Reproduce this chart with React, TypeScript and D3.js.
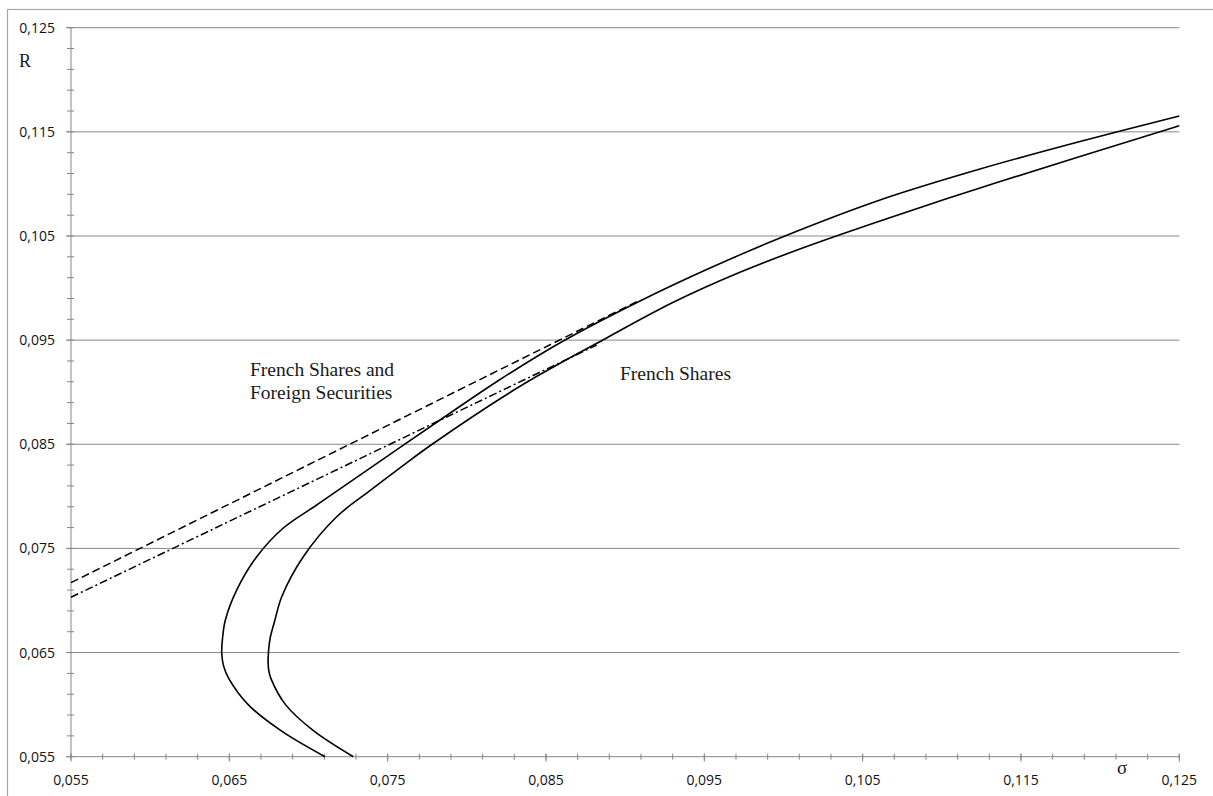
import React from "react";
import * as d3 from "d3";

// ---- Data ----
const sigmaTicks = [0.055, 0.065, 0.075, 0.085, 0.095, 0.105, 0.115, 0.125];
const returnTicks = [0.055, 0.065, 0.075, 0.085, 0.095, 0.105, 0.115, 0.125];
const minorStep = 0.002;

// Efficient frontier: French shares and foreign securities  [sigma, R]
const frontierWithForeign: [number, number][] = [
  [0.07104, 0.05500],
  [0.06826, 0.05750],
  [0.06619, 0.06000],
  [0.06497, 0.06250],
  [0.06464, 0.06370],
  [0.06452, 0.06493],
  [0.06458, 0.06650],
  [0.06475, 0.06812],
  [0.06547, 0.07101],
  [0.06673, 0.07420],
  [0.06841, 0.07696],
  [0.07052, 0.07917],
  [0.07325, 0.08203],
  [0.07831, 0.08733],
  [0.08210, 0.09122],
  [0.08620, 0.09501],
  [0.09094, 0.09876],
  [0.09536, 0.10192],
  [0.09978, 0.10481],
  [0.10610, 0.10846],
  [0.11241, 0.11143],
  [0.11873, 0.11407],
  [0.12500, 0.11653],
];

// Efficient frontier: French shares only  [sigma, R]
const frontierFrench: [number, number][] = [
  [0.07283, 0.05500],
  [0.07031, 0.05750],
  [0.06855, 0.06000],
  [0.06763, 0.06250],
  [0.06750, 0.06320],
  [0.06745, 0.06400],
  [0.06748, 0.06520],
  [0.06758, 0.06640],
  [0.06788, 0.06812],
  [0.06831, 0.07036],
  [0.06967, 0.07420],
  [0.07178, 0.07804],
  [0.07388, 0.08054],
  [0.07578, 0.08273],
  [0.07774, 0.08493],
  [0.08336, 0.09057],
  [0.08862, 0.09504],
  [0.09304, 0.09864],
  [0.09725, 0.10152],
  [0.10125, 0.10387],
  [0.10610, 0.10644],
  [0.11241, 0.10961],
  [0.11873, 0.11263],
  [0.12500, 0.11559],
];

// Tangent (capital market) lines  [sigma, R]
const tangentWithForeign: [number, number][] = [
  [0.055, 0.07171],
  [0.09073, 0.09869],
];
const tangentFrench: [number, number][] = [
  [0.055, 0.07031],
  [0.0882, 0.09453],
];

const labelWithForeign = ["French Shares and", "Foreign Securities"];
const labelFrench = "French Shares";

// ---- Layout ----
const W = 1213;
const H = 796;
const left = 71;
const right = 1179.3;
const top = 27.7;
const bottom = 756.7;

const gridColor = "#878787";
const borderColor = "#a8a8a8";
const tickFont = "'Open Sans', 'Liberation Sans', sans-serif";
const serifFont = "'Liberation Serif', 'Times New Roman', serif";

const fmt = d3
  .formatLocale({ decimal: ",", thousands: " ", grouping: [3], currency: ["", ""] })
  .format(".3f");

export default function App() {
  const x = d3.scaleLinear().domain([0.055, 0.125]).range([left, right]);
  const y = d3.scaleLinear().domain([0.055, 0.125]).range([bottom, top]);

  const curve = d3
    .line<[number, number]>()
    .x((d) => x(d[0]))
    .y((d) => y(d[1]))
    .curve(d3.curveCatmullRom.alpha(0.5));
  const straight = d3
    .line<[number, number]>()
    .x((d) => x(d[0]))
    .y((d) => y(d[1]));

  const minorX = d3.range(0.055, 0.1251, minorStep);
  const minorY = d3.range(0.055, 0.1251, minorStep);

  return (
    <>
      <style>{`body{margin:0;}`}</style>
      <svg width={W} height={H} style={{ display: "block" }}>
        <rect x={0} y={0} width={W} height={H} fill="#ffffff" />
        {/* outer chart border */}
        <rect
          x={7.5}
          y={9.5}
          width={W + 20}
          height={H + 20}
          fill="none"
          stroke={borderColor}
          strokeWidth={1.2}
        />
        {/* horizontal gridlines */}
        {returnTicks.slice(1).map((t) => (
          <line
            key={"g" + t}
            x1={left - 5}
            x2={right}
            y1={y(t)}
            y2={y(t)}
            stroke={gridColor}
            strokeWidth={1}
          />
        ))}
        {/* y axis */}
        <line x1={left} x2={left} y1={top} y2={bottom} stroke={gridColor} strokeWidth={1} />
        {minorY.map((t, i) => (
          <line
            key={"my" + i}
            x1={left - 4}
            x2={left + 3}
            y1={y(t)}
            y2={y(t)}
            stroke={gridColor}
            strokeWidth={1}
          />
        ))}
        {/* x axis */}
        <line x1={left - 5} x2={right} y1={bottom} y2={bottom} stroke={gridColor} strokeWidth={1} />
        {minorX.map((t, i) => (
          <line
            key={"mx" + i}
            x1={x(t)}
            x2={x(t)}
            y1={bottom - 3}
            y2={bottom + 3}
            stroke={gridColor}
            strokeWidth={1}
          />
        ))}
        {sigmaTicks.map((t) => (
          <line
            key={"Mx" + t}
            x1={x(t)}
            x2={x(t)}
            y1={bottom - 3}
            y2={bottom + 5}
            stroke={gridColor}
            strokeWidth={1}
          />
        ))}
        {/* tick labels */}
        {returnTicks.map((t) => (
          <text
            key={"ly" + t}
            x={55}
            y={y(t)}
            dy="0.36em"
            textAnchor="end"
            fontFamily={tickFont}
            fontSize={14}
            fill="#111"
          >
            {fmt(t)}
          </text>
        ))}
        {sigmaTicks.map((t) => (
          <text
            key={"lx" + t}
            x={x(t)}
            y={785}
            textAnchor="middle"
            fontFamily={tickFont}
            fontSize={14}
            fill="#111"
          >
            {fmt(t)}
          </text>
        ))}
        {/* axis titles */}
        <text x={19} y={66.5} fontFamily={serifFont} fontSize={18} fill="#1a1a1a">
          R
        </text>
        <text x={1117} y={774} fontFamily={serifFont} fontSize={19} fill="#1a1a1a">
          σ
        </text>

        {/* tangent lines */}
        <path
          d={straight(tangentWithForeign) || ""}
          fill="none"
          stroke="#000"
          strokeWidth={1.5}
          strokeDasharray="8,4"
        />
        <path
          d={straight(tangentFrench) || ""}
          fill="none"
          stroke="#000"
          strokeWidth={1.5}
          strokeDasharray="8,3,2,3"
        />
        {/* frontiers */}
        <path d={curve(frontierWithForeign) || ""} fill="none" stroke="#000" strokeWidth={1.6} />
        <path d={curve(frontierFrench) || ""} fill="none" stroke="#000" strokeWidth={1.6} />

        {/* annotations */}
        <text x={250} y={376} fontFamily={serifFont} fontSize={19.5} fill="#1a1a1a">
          {labelWithForeign[0]}
        </text>
        <text x={250} y={399} fontFamily={serifFont} fontSize={19.5} fill="#1a1a1a">
          {labelWithForeign[1]}
        </text>
        <text x={620} y={380} fontFamily={serifFont} fontSize={19.5} fill="#1a1a1a">
          {labelFrench}
        </text>
      </svg>
    </>
  );
}
